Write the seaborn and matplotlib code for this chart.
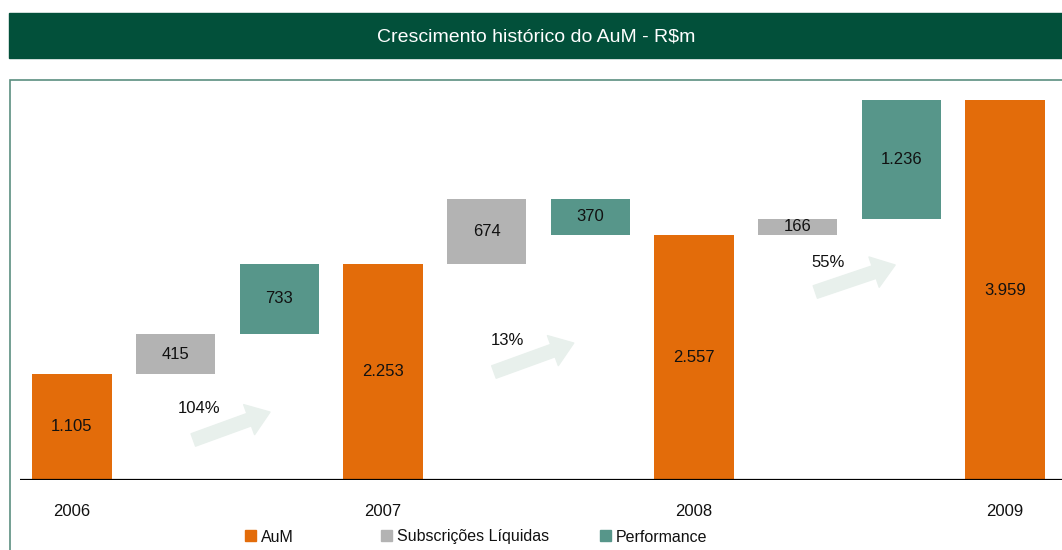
import numpy as np
import pandas as pd
import matplotlib
matplotlib.use("Agg")
import matplotlib.pyplot as plt
import matplotlib.patches as mpatches
import seaborn as sns

# =========================
# Dados (R$m)
# =========================
anos = ["2006", "2007", "2008", "2009"]
aum = [1105, 2253, 2557, 3959]
subscricoes = [415, 674, 166]
performance = [733, -370, 1236]
crescimento = ["104%", "13%", "55%"]

rotulos_aum = ["1.105", "2.253", "2.557", "3.959"]
rotulos_sub = ["415", "674", "166"]
rotulos_perf = ["733", "370", "1.236"]

COR_AUM = "#E36C0A"
COR_SUB = "#B3B3B3"
COR_PERF = "#57968A"
COR_TITULO = "#02503A"
COR_SETA = "#E8F0EC"

# deslocamentos das setas e textos de crescimento (relativos ao AuM inicial)
seta_x0 = [1.17, 1.07, 1.17]
seta_x1 = [1.91, 1.84, 1.94]
seta_base = [-688, -1128, -598]
seta_ponta = [-397, -826, -317]
texto_x = [1.23, 1.20, 1.29]
texto_off = [-355, -795, -290]

sns.set_theme(style="white")
plt.rcParams["font.family"] = ["Liberation Sans", "DejaVu Sans"]

fig = plt.figure(figsize=(10.62, 5.5), dpi=100)

# Barra do título e moldura
fig.patches.append(mpatches.Rectangle((9 / 1062, 1 - 58 / 550), 1053 / 1062, 45 / 550,
                                      transform=fig.transFigure, color=COR_TITULO, zorder=0))
fig.text(536 / 1062, 1 - 37 / 550, "Crescimento histórico do AuM - R$m", color="white",
         fontsize=14, ha="center", va="center")
fig.patches.append(mpatches.Rectangle((10 / 1062, -0.02), 1.1, 1 - 80 / 550 + 0.02,
                                      transform=fig.transFigure, fill=False,
                                      edgecolor="#5B8F80", lw=1.2, zorder=0))

ax = fig.add_axes([20 / 1062, 1 - 480 / 550, 1042 / 1062, 400 / 550])
ax.set_facecolor("none")

largura = 0.766
fs = 12

# AuM (barras cheias)
pos_aum = [3 * i for i in range(len(aum))]
df_aum = pd.DataFrame({"pos": pos_aum, "aum": aum})
sns.barplot(data=df_aum, x="pos", y="aum", native_scale=True, width=largura / 3,
            color=COR_AUM, saturation=1, errorbar=None, linewidth=0, ax=ax)
for p, v, r in zip(pos_aum, aum, rotulos_aum):
    ax.text(p, v / 2, r, ha="center", va="center", fontsize=fs, color="#111111")

# Subscrições e performance (barras flutuantes)
for i in range(len(subscricoes)):
    base = aum[i]
    p_sub = 3 * i + 1
    ax.bar(p_sub, subscricoes[i], bottom=base, width=largura, color=COR_SUB, linewidth=0)
    ax.text(p_sub, base + subscricoes[i] / 2, rotulos_sub[i], ha="center", va="center",
            fontsize=fs, color="#111111")
    base2 = base + subscricoes[i]
    p_perf = 3 * i + 2
    ax.bar(p_perf, performance[i], bottom=base2, width=largura, color=COR_PERF, linewidth=0)
    ax.text(p_perf, base2 + performance[i] / 2, rotulos_perf[i], ha="center", va="center",
            fontsize=fs, color="#111111")

    # seta de crescimento
    ax.annotate("", xy=(3 * i + seta_x1[i], aum[i] + seta_ponta[i]),
                xytext=(3 * i + seta_x0[i], aum[i] + seta_base[i]),
                arrowprops=dict(arrowstyle="simple,head_length=1.6,head_width=2.3,tail_width=0.95",
                                mutation_scale=10, color=COR_SETA, shrinkA=0, shrinkB=0))
    ax.text(3 * i + texto_x[i], aum[i] + texto_off[i], crescimento[i], ha="center",
            va="center", fontsize=fs, color="#111111")

ax.axhline(0, color="black", lw=1.6)
ax.set_xlim((20 - 72) / 103.67, (1062 - 72) / 103.67)
ax.set_ylim(0, 400 / 0.09598)
ax.set_xticks(pos_aum)
ax.set_xticklabels(anos, fontsize=fs, color="#111111")
ax.tick_params(axis="x", length=0, pad=17)
ax.set_yticks([])
ax.set_xlabel("")
ax.set_ylabel("")
sns.despine(ax=ax, left=True, bottom=True)

# Legenda
itens = [("AuM", COR_AUM, 245), ("Subscrições Líquidas", COR_SUB, 381), ("Performance", COR_PERF, 600)]
for nome, cor, x0 in itens:
    fig.patches.append(mpatches.Rectangle((x0 / 1062, 1 - 541 / 550), 11 / 1062, 11 / 550,
                                          transform=fig.transFigure, color=cor))
    fig.text((x0 + 16) / 1062, 1 - 537 / 550, nome, fontsize=11.5, va="center", ha="left",
             color="#111111")

fig.savefig("out.png", dpi=100)
